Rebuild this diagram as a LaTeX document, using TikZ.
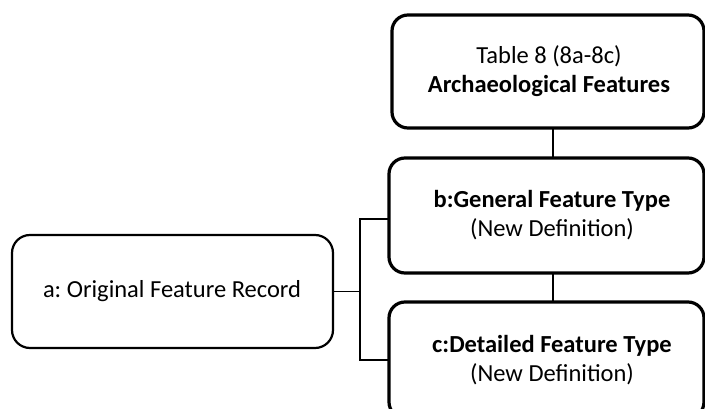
\documentclass[tikz,border=0pt]{standalone}
\usepackage{fontspec}
\setmainfont{Carlito}
\frenchspacing
\begin{document}
\begin{tikzpicture}[x=1pt,y=-1pt,
  box/.style={draw=black,rounded corners=16pt,line width=3.2pt},
  lbox/.style={draw=black,rounded corners=18pt,line width=2.2pt},
  txt/.style={font=\fontsize{24.5}{29}\selectfont,align=center,inner sep=0pt},
  conn/.style={draw=black,line width=1.3pt}]
\useasboundingbox (0,0) rectangle (705,409);
\draw[box] (392,15) rectangle (704,128);
\node[txt] (t) at (549,71.5) {Table 8 (8a-8c)\\\textbf{Archaeological Features}};
\draw[box] (389,158) rectangle (704,273);
\node[txt] (b) at (552,215.5) {\textbf{b:General Feature Type}\\(New Definition)};
\draw[box] (389,302) rectangle (704,418);
\node[txt] (c) at (552,360) {\textbf{c:Detailed Feature Type}\\(New Definition)};
\draw[lbox] (12,235) rectangle (333,348);
\node[txt] (a) at (172,291.5) {a: Original Feature Record};
\coordinate (aR) at (333,291.5);
\coordinate (jn) at (360,291.5);
\coordinate (j1) at (360,219);
\coordinate (j2) at (360,360);
\coordinate (bL) at (389,219);
\coordinate (cL) at (389,360);
\coordinate (tB) at (553,128);
\coordinate (bT) at (553,158);
\coordinate (bB) at (553,273);
\coordinate (cT) at (553,302);
\draw[conn] (aR) -- (jn);
\draw[conn] (bL) -- (j1) -- (j2) -- (cL);
\draw[conn] (tB) -- (bT);
\draw[conn] (bB) -- (cT);
\end{tikzpicture}
\end{document}
